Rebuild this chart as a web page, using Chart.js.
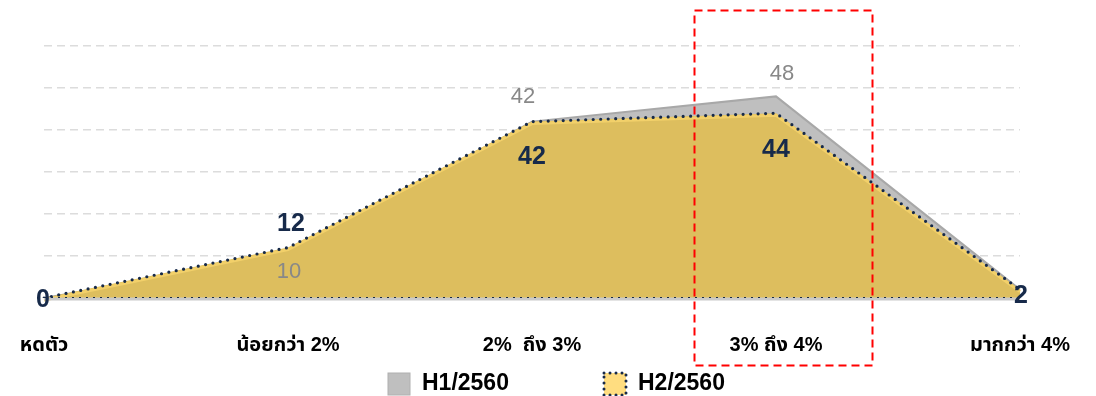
<!DOCTYPE html>
<html><head><meta charset="utf-8">
<script src="https://cdn.jsdelivr.net/npm/chart.js@4/dist/chart.umd.min.js"></script>
<style>html,body{margin:0;padding:0;background:#fff}#wrap{width:1096px;height:396px}</style>
</head><body><div id="wrap"><canvas id="c" width="1096" height="396"></canvas></div>
<script>
const categories = ['หดตัว', 'น้อยกว่า 2%', '2%  ถึง 3%', '3% ถึง 4%', 'มากกว่า 4%'];
const h1Values = [0, 10, 42, 48, 2];
const h2Values = [0, 12, 42, 44, 2];
const seriesNames = ['H1/2560', 'H2/2560'];
const highlightIndex = 3;

const FONT = '"Liberation Sans", Arial, "Noto Sans Thai", "DejaVu Sans", sans-serif';
const NAVY = '#172A4A';

const labelPlugin = {
  id: 'labels',
  beforeDatasetDraw(chart, args) {
    if (args.index !== 1) return;
    const pts = chart.getDatasetMeta(1).data;
    const ctx = chart.ctx;
    ctx.save();
    ctx.strokeStyle = '#F2D06A';
    ctx.lineWidth = 3;
    ctx.beginPath();
    pts.forEach((p, i) => { i ? ctx.lineTo(p.x, p.y + 2) : ctx.moveTo(p.x, p.y + 2); });
    ctx.stroke();
    ctx.restore();
  },
  afterDatasetsDraw(chart) {
    const ctx = chart.ctx;
    const xs = chart.scales.x, ys = chart.scales.y;
    const y0 = ys.getPixelForValue(0);
    ctx.save();
    // baseline
    ctx.strokeStyle = '#C9C9C9'; ctx.lineWidth = 3;
    ctx.beginPath(); ctx.moveTo(xs.left, y0 + 1); ctx.lineTo(xs.right, y0 + 1); ctx.stroke();
    ctx.strokeStyle = NAVY; ctx.lineWidth = 1; ctx.setLineDash([2, 5]);
    ctx.beginPath(); ctx.moveTo(xs.left, y0 - 0.5); ctx.lineTo(xs.right, y0 - 0.5); ctx.stroke();
    ctx.setLineDash([]);
    // data labels
    ctx.textAlign = 'center'; ctx.textBaseline = 'middle';
    const m1 = chart.getDatasetMeta(0).data, m2 = chart.getDatasetMeta(1).data;
    const h1Off = [null, 16, -25, -22, null];
    const h1Dx = [0, 1, -9, 6, 0];
    ctx.fillStyle = '#888888'; ctx.font = '22px ' + FONT;
    h1Values.forEach((v, i) => { if (h1Off[i] === null) return; ctx.fillText(String(v), m1[i].x + h1Dx[i], m1[i].y + h1Off[i]); });
    const h2Off = [2, -23, 36, 37, 7];
    const h2Dx = [-1, 3, 0, 0, 1];
    ctx.fillStyle = NAVY; ctx.font = 'bold 25px ' + FONT;
    h2Values.forEach((v, i) => { ctx.fillText(String(v), m2[i].x + h2Dx[i], m2[i].y + h2Off[i]); });
    // highlight box
    const cx = xs.getPixelForValue(highlightIndex);
    const step = xs.getPixelForValue(1) - xs.getPixelForValue(0);
    ctx.strokeStyle = '#FF0000'; ctx.lineWidth = 2; ctx.setLineDash([8, 5]);
    ctx.strokeRect(Math.round(cx - 0.336 * step) + 0.5, 10.5, Math.round(0.729 * step), 355);
    ctx.setLineDash([]);
    // legend
    const ly = 373;
    const items = [
      { x: 388, fill: '#BFBFBF', stroke: '#B0B0B0', dash: [], lw: 1 },
      { x: 604, fill: '#FFDD80', stroke: NAVY, dash: [0, 6], lw: 3 }
    ];
    ctx.font = 'bold 23px ' + FONT; ctx.textAlign = 'left'; ctx.textBaseline = 'middle';
    items.forEach((it, i) => {
      ctx.fillStyle = it.fill; ctx.fillRect(it.x, ly, 22, 22);
      ctx.strokeStyle = it.stroke; ctx.lineWidth = it.lw; ctx.lineCap = 'round'; ctx.setLineDash(it.dash);
      ctx.strokeRect(it.x, ly, 22, 22);
      ctx.setLineDash([]);
      ctx.fillStyle = '#000';
      ctx.fillText(seriesNames[i], it.x + 34, ly + 11);
    });
    ctx.restore();
  }
};

new Chart(document.getElementById('c'), {
  type: 'line',
  data: {
    labels: categories,
    datasets: [
      { label: seriesNames[0], data: h1Values, order: 1, fill: 'origin', backgroundColor: '#BFBFBF', borderColor: '#A8A8A8', borderWidth: 2, pointRadius: 0, tension: 0 },
      { label: seriesNames[1], data: h2Values, order: 0, fill: 'origin', backgroundColor: '#DDBE5E', borderColor: NAVY, borderWidth: 3.2, borderDash: [0, 7.5], borderCapStyle: 'round', pointRadius: 0, tension: 0 }
    ]
  },
  options: {
    responsive: false, animation: false, events: [],
    layout: { padding: { left: 0, right: 0, top: 46, bottom: 39 } },
    plugins: { tooltip: { enabled: false }, legend: { display: false } },
    scales: {
      x: {
        offset: false,
        grid: { display: true, drawOnChartArea: false, drawTicks: true, tickLength: 35, tickColor: 'rgba(0,0,0,0)' },
        border: { display: false },
        ticks: { color: '#000', font: { family: FONT, size: 20, weight: 'bold' }, padding: 0, maxRotation: 0, autoSkip: false }
      },
      y: {
        min: 0, max: 60,
        afterFit(s) { s.width = 44; },
        ticks: { display: false, stepSize: 10 },
        border: { display: false, dash: [8, 5] },
        grid: { color: '#DCDCDC', lineWidth: 1.5, drawTicks: false }
      },
      y2: {
        position: 'right', min: 0, max: 60,
        afterFit(s) { s.width = 76; },
        ticks: { display: false }, border: { display: false }, grid: { display: false }
      }
    }
  },
  plugins: [labelPlugin]
});
</script></body></html>
